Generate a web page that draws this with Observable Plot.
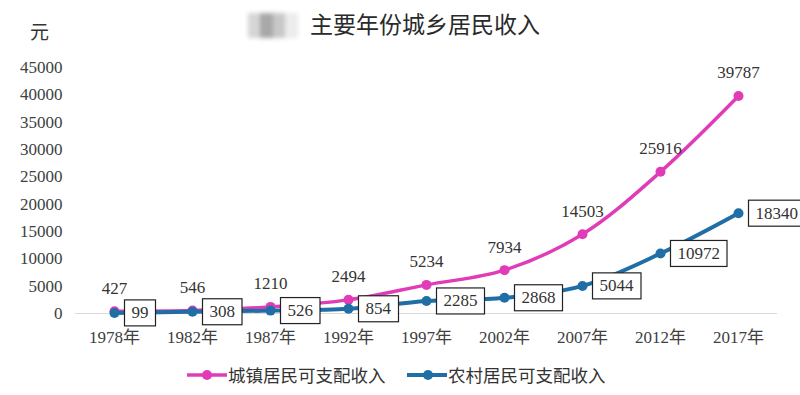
<!DOCTYPE html>
<html><head><meta charset="utf-8">
<script src="https://cdn.jsdelivr.net/npm/d3@7"></script>
<script src="https://cdn.jsdelivr.net/npm/@observablehq/plot@0.6"></script>
<style>
body{margin:0;background:#fff;}
#wrap{position:relative;width:800px;height:395px;overflow:hidden;font-family:"Noto Sans CJK SC","Noto Sans",sans-serif;background:#fff;}
#chart{position:absolute;left:0;top:0;}
#title{position:absolute;left:310px;top:8px;font-size:23px;line-height:30px;color:#2a2a2a;white-space:nowrap;}
#blur{position:absolute;left:248px;top:13px;width:50px;height:25px;filter:blur(2px);
 background:linear-gradient(90deg,#d6d6d6 0 25%,#a8a8a8 25% 50%,#c8c8c8 50% 75%,#ececec 75%);}
#unit{position:absolute;left:30px;top:17px;font-size:19px;line-height:28px;color:#333;}
.leg{position:absolute;top:363px;font-size:17.5px;line-height:24px;color:#333;white-space:nowrap;}
.legsw{position:absolute;top:367px;}
</style>
</head><body>
<div id="wrap">
  <div id="chart"></div>
  <div id="blur"></div>
  <div id="title">主要年份城乡居民收入</div>
  <div id="unit">元</div>
  <svg class="legsw" style="left:187px" width="40" height="16"><line x1="0" x2="40" y1="8" y2="8" stroke="#e03cb8" stroke-width="3.5"/><circle cx="20" cy="8" r="5" fill="#e03cb8"/></svg>
  <div class="leg" style="left:228px">城镇居民可支配收入</div>
  <svg class="legsw" style="left:407px" width="40" height="16"><line x1="0" x2="40" y1="8" y2="8" stroke="#1f6ea6" stroke-width="4"/><circle cx="21" cy="8" r="5" fill="#1f6ea6"/></svg>
  <div class="leg" style="left:448px">农村居民可支配收入</div>
</div>
<script>
const years = ["1978","1982","1987","1992","1997","2002","2007","2012","2017"];
const urban = [427, 546, 1210, 2494, 5234, 7934, 14503, 25916, 39787];
const rural = [99, 308, 526, 854, 2285, 2868, 5044, 10972, 18340];
const yTicks = [0, 5000, 10000, 15000, 20000, 25000, 30000, 35000, 40000, 45000];

const pink = "#e03cb8";
const blue = "#1f6ea6";
const table = years.map((y, i) => ({year: y, urban: urban[i], rural: rural[i]}));

const chart = Plot.plot({
  width: 800,
  height: 350,
  marginTop: 67,
  marginBottom: 37,
  marginLeft: 75,
  marginRight: 23,
  style: {fontFamily: "'Liberation Serif', 'Noto Sans CJK SC', serif", fontSize: "17px", color: "#404040", background: "transparent"},
  x: {type: "point", domain: years, padding: 0.5, label: null},
  y: {domain: [0, 45000], label: null},
  marks: [
    Plot.ruleY([0], {stroke: "#d9d9d9", strokeWidth: 1}),
    Plot.axisY({ticks: yTicks, tickSize: 0, tickPadding: 13, tickFormat: d => String(d), fontSize: 17, label: null}),
    Plot.axisX({tickSize: 0, tickPadding: 17, tickFormat: d => d + "年", fontSize: 17, label: null}),
    Plot.line(table, {x: "year", y: "urban", stroke: pink, strokeWidth: 3.5, curve: "catmull-rom"}),
    Plot.dot(table, {x: "year", y: "urban", r: 5, fill: pink}),
    Plot.line(table, {x: "year", y: "rural", stroke: blue, strokeWidth: 4, curve: "catmull-rom"}),
    Plot.dot(table, {x: "year", y: "rural", r: 5, fill: blue}),
    Plot.text(table, {x: "year", y: "urban", text: d => String(d.urban), dy: -23, fontSize: 17, fill: "#333"}),
    Plot.text(table, {x: "year", y: "rural", text: d => String(d.rural), dx: 17, textAnchor: "start", fontSize: 17, fill: "#333"})
  ]
});
document.getElementById("chart").append(chart);
const svg = chart.tagName.toLowerCase() === "svg" ? chart : chart.querySelector("svg");
const ruralStr = rural.map(String);
const groups = Array.from(svg.querySelectorAll("g")).filter(g => {
  const ts = Array.from(g.children).filter(c => c.tagName.toLowerCase() === "text");
  return ts.length === rural.length && ts.every((t, i) => t.textContent === ruralStr[i]);
});
groups.forEach(g => {
  Array.from(g.children).filter(c => c.tagName.toLowerCase() === "text").forEach(t => {
    const b = t.getBBox();
    const r = document.createElementNS("http://www.w3.org/2000/svg", "rect");
    r.setAttribute("x", b.x - 7);
    r.setAttribute("y", b.y - 3.5);
    r.setAttribute("width", b.width + 14);
    r.setAttribute("height", b.height + 7);
    r.setAttribute("fill", "#fff");
    r.setAttribute("stroke", "#222");
    r.setAttribute("stroke-width", "1.2");
    const tr = t.getAttribute("transform");
    if (tr) r.setAttribute("transform", tr);
    g.insertBefore(r, t);
  });
});
</script>
</body></html>
